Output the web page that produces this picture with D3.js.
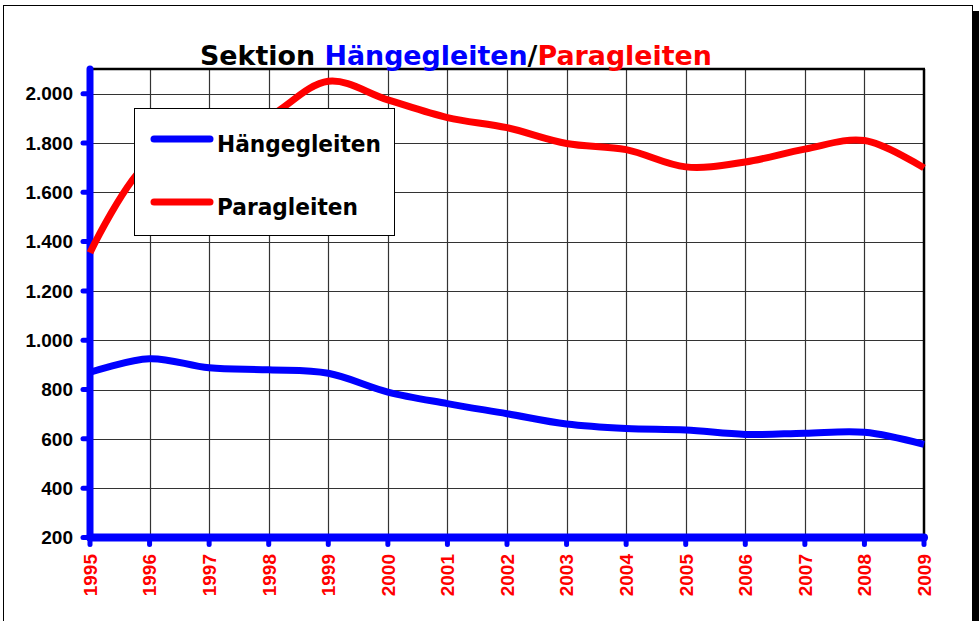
<!DOCTYPE html>
<html>
<head>
<meta charset="utf-8">
<script src="https://cdn.jsdelivr.net/npm/d3@7"></script>
<style>
  html, body { margin: 0; padding: 0; background: #fff; }
  svg { display: block; }
</style>
</head>
<body>
<svg id="chart" width="979" height="621"></svg>
<script>
// ---- data ----
const years = [1995, 1996, 1997, 1998, 1999, 2000, 2001, 2002, 2003, 2004, 2005, 2006, 2007, 2008, 2009];
const haengegleiten = [870, 925, 888, 880, 866, 790, 743, 702, 660, 642, 636, 618, 623, 627, 578];
const paragleiten = [1355, 1725, 1790, 1905, 2050, 1975, 1903, 1862, 1798, 1773, 1703, 1723, 1775, 1810, 1699];
const yTicks = [200, 400, 600, 800, 1000, 1200, 1400, 1600, 1800, 2000];
const seriesNames = ["Hängegleiten", "Paragleiten"];
const seriesColors = ["#0000ff", "#ff0000"];
const titleParts = [
  { text: "Sektion ", color: "#000000" },
  { text: "Hängegleiten", color: "#0000ff" },
  { text: "/", color: "#000000" },
  { text: "Paragleiten", color: "#ff0000" }
];

(function () {
// ---- layout ----
const svg = d3.select("#chart");
const pL = 90, pR = 924, pT = 69, pB = 537.5;
const comic = "'DejaVu Sans', sans-serif";

const x = d3.scaleLinear().domain([years[0], years[years.length - 1]]).range([pL, pR]);
const y = d3.scaleLinear().domain([200, 2100]).range([pB, pT]);

const loc = d3.formatLocale({ decimal: ",", thousands: ".", grouping: [3], currency: ["", "€"] });
const fmt = loc.format(",");

// outer frame + shadow
svg.append("rect").attr("x", 973).attr("y", 11).attr("width", 6).attr("height", 615).attr("fill", "#000");
svg.append("rect").attr("x", 3.5).attr("y", 5.5).attr("width", 969).attr("height", 640)
  .attr("fill", "#fff").attr("stroke", "#000").attr("stroke-width", 1);

// grid
const grid = svg.append("g");
grid.selectAll("line.h").data(yTicks.filter(d => d > 200)).join("line")
  .attr("x1", pL).attr("x2", pR)
  .attr("y1", d => Math.round(y(d)) + 0.5).attr("y2", d => Math.round(y(d)) + 0.5)
  .attr("stroke", "#333").attr("stroke-width", 1.2);
grid.selectAll("line.v").data(years.slice(1, -1)).join("line")
  .attr("y1", pT).attr("y2", pB)
  .attr("x1", d => Math.round(x(d)) + 0.5).attr("x2", d => Math.round(x(d)) + 0.5)
  .attr("stroke", "#333").attr("stroke-width", 1.2);

// top & right border
svg.append("line").attr("x1", pL).attr("x2", pR + 1).attr("y1", pT).attr("y2", pT)
  .attr("stroke", "#000").attr("stroke-width", 2.5);
svg.append("line").attr("x1", pR).attr("x2", pR).attr("y1", pT).attr("y2", pB)
  .attr("stroke", "#000").attr("stroke-width", 2.5);

// y axis (blue, thick)
const yAxis = svg.append("g");
yAxis.selectAll("line.tick").data(yTicks).join("line")
  .attr("x1", pL - 7).attr("x2", pL)
  .attr("y1", d => y(d)).attr("y2", d => y(d))
  .attr("stroke", "#0000ff").attr("stroke-width", 5).attr("stroke-linecap", "round");
yAxis.append("line").attr("x1", pL).attr("x2", pL).attr("y1", pT).attr("y2", pB)
  .attr("stroke", "#0000ff").attr("stroke-width", 7).attr("stroke-linecap", "round");
yAxis.selectAll("text").data(yTicks).join("text")
  .attr("x", 73).attr("y", d => y(d)).attr("dy", "0.36em")
  .attr("text-anchor", "end")
  .attr("font-family", "'Liberation Sans', Arial, sans-serif")
  .attr("font-weight", "bold").attr("font-size", 19).attr("fill", "#000")
  .text(d => fmt(d));

// x axis
const xAxis = svg.append("g");
xAxis.selectAll("line.tick").data(years).join("line")
  .attr("x1", d => x(d)).attr("x2", d => x(d))
  .attr("y1", pB).attr("y2", pB + 7)
  .attr("stroke", "#0000ff").attr("stroke-width", 5).attr("stroke-linecap", "round");
xAxis.append("line").attr("x1", pL).attr("x2", pR).attr("y1", pB).attr("y2", pB)
  .attr("stroke", "#0000ff").attr("stroke-width", 8).attr("stroke-linecap", "round");
xAxis.selectAll("text").data(years).join("text")
  .attr("transform", d => `translate(${x(d)},${554}) rotate(-90)`)
  .attr("text-anchor", "end").attr("dy", "0.36em")
  .attr("font-family", "'Liberation Sans', Arial, sans-serif")
  .attr("font-weight", "bold").attr("font-size", 19).attr("fill", "#ff0000")
  .text(d => d);

// data lines
const line = d3.line().x((d, i) => x(years[i])).y(d => y(d)).curve(d3.curveCatmullRom.alpha(0.5));
[haengegleiten, paragleiten].forEach((vals, k) => {
  svg.append("path").attr("d", line(vals))
    .attr("fill", "none").attr("stroke", seriesColors[k]).attr("stroke-width", 7)
    .attr("stroke-linejoin", "round").attr("stroke-linecap", "butt");
});

// legend
const lg = svg.append("g");
lg.append("rect").attr("x", 134.5).attr("y", 108.5).attr("width", 260).attr("height", 127)
  .attr("fill", "#fff").attr("stroke", "#000").attr("stroke-width", 1);
const legendY = [139, 202];
const legendLen = [164, 141];
seriesNames.forEach((name, k) => {
  lg.append("line").attr("x1", 154).attr("x2", 210).attr("y1", legendY[k]).attr("y2", legendY[k])
    .attr("stroke", seriesColors[k]).attr("stroke-width", 7).attr("stroke-linecap", "round");
  lg.append("text").attr("x", 217).attr("y", legendY[k] + 13)
    .attr("font-family", comic).attr("font-weight", "bold").attr("font-size", 23)
    .attr("textLength", legendLen[k]).attr("lengthAdjust", "spacingAndGlyphs")
    .attr("fill", "#000").text(name);
});

// title: sized so that its natural width spans the reference width
const title = svg.append("text").attr("x", 200).attr("y", 65)
  .attr("font-family", comic).attr("font-weight", "bold").attr("font-size", 30);
titleParts.forEach(p => title.append("tspan").attr("fill", p.color).text(p.text));
const w = title.node().getComputedTextLength();
if (w > 0) title.attr("font-size", 30 * 512 / w);
})();
</script>
</body>
</html>
